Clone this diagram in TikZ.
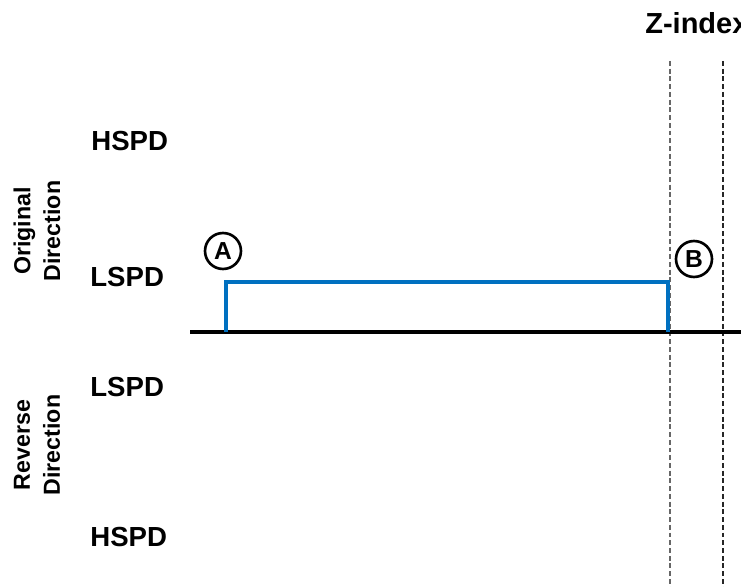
\documentclass[tikz,border=0pt]{standalone}
\usepackage{fontspec}
\setmainfont{Liberation Sans}
\begin{document}
\begin{tikzpicture}[x=0.02cm,y=-0.02cm]
\tikzstyle{nivel}=[font=\bfseries\fontsize{15.7}{18}\selectfont,inner sep=0pt,anchor=west]
\tikzstyle{sentido}=[font=\bfseries\fontsize{13.2}{17}\selectfont,inner sep=0pt,align=center,rotate=90]
\tikzstyle{marca}=[draw,circle,line width=1.5pt,minimum size=0.72cm,inner sep=0pt,font=\bfseries\fontsize{14}{15}\selectfont]
\tikzstyle{guia}=[line width=0.9pt,dash pattern=on 2.8pt off 1.6pt]

\clip (0,0) rectangle (741,587);
\useasboundingbox (0,0) rectangle (741,587);

% etiquetas de velocidad
\node[nivel] (hspd1) at (91,141) {HSPD};
\node[nivel] (lspd1) at (90,277) {LSPD};
\node[nivel] (lspd2) at (90,387) {LSPD};
\node[nivel] (hspd2) at (90,537) {HSPD};

\node[sentido] (orig) at (37,231) {Original\\Direction};
\node[sentido] (rev) at (37,445) {Reverse\\Direction};

\node[font=\bfseries\fontsize{16.5}{18}\selectfont,inner sep=0pt,anchor=west] (zidx) at (645,23) {Z-index};

% lineas del Z-index
\draw[guia,draw=black!60] (670,61) coordinate (z1) -- (670,587);
\draw[guia,draw=black!85] (723,61) coordinate (z2) -- (723,587);

% eje
\draw[line width=2.8pt] (190,332) coordinate (e1) -- (741,332) coordinate (e2);

% perfil
\coordinate (p1) at (226,332);
\coordinate (p2) at (226,282);
\coordinate (p3) at (668,282);
\coordinate (p4) at (668,332);
\draw[line width=2.8pt,draw={rgb,255:red,0;green,112;blue,192}] (p1) -- (p2) -- (p3) -- (p4);

\node[marca] (A) at (223,251) {A};
\node[marca] (B) at (694,259) {B};
\end{tikzpicture}
\end{document}
